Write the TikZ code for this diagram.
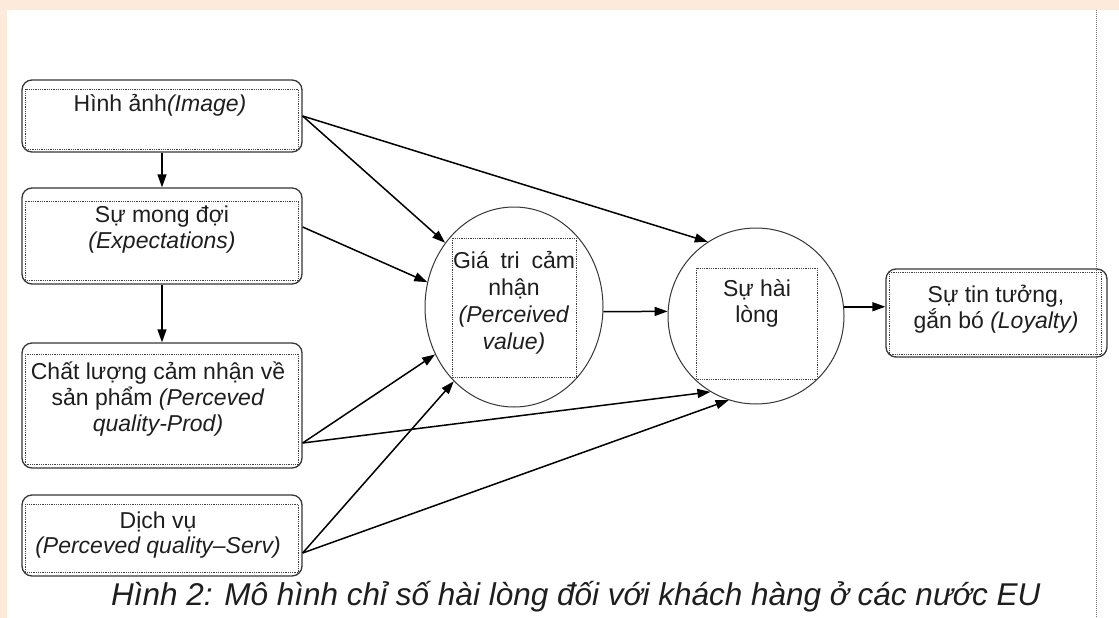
\documentclass[tikz,border=0pt]{standalone}
\usepackage{fontspec}
\setmainfont{Liberation Sans}
\usetikzlibrary{arrows.meta,shapes.geometric}
\definecolor{peach}{RGB}{253,234,218}
\definecolor{framec}{RGB}{55,55,55}
\definecolor{inkc}{RGB}{30,30,30}
\begin{document}
\begin{tikzpicture}[x=1pt,y=-1pt,
  boxframe/.style={draw=framec, line width=1.3pt, rounded corners=10pt, inner sep=0pt, minimum width=280pt},
  innerdot/.style={draw=black!75, line width=0.8pt, dash pattern=on 0.9pt off 0.9pt},
  bubble/.style={draw=framec, line width=1pt, inner sep=0pt},
  txt/.style={font=\fontsize{23}{26}\selectfont, align=center, inner sep=0pt, anchor=base, text=inkc},
  arr/.style={draw=black, line width=1.5pt, -{Triangle[length=13pt,width=9pt]}},
  caption/.style={font=\fontsize{31.5}{36}\selectfont\itshape, inner sep=0pt, anchor=base west, text=inkc}]
\useasboundingbox (0,0) rectangle (1119,618);
\fill[peach] (0,0) rectangle (1119,618);
\fill[white] (7,10) rectangle (1119,618);
% page margin line
\draw[black!55, line width=0.8pt, dash pattern=on 1pt off 1pt] (1096,10) -- (1096,618);

% boxes
\node[boxframe, minimum height=72pt] (b1) at (162,116) {};
\draw[innerdot] ([shift={(4,10)}]b1.north west) rectangle ([shift={(-4,-3)}]b1.south east);
\node[txt] (t1) at (160,111) {Hình ảnh\textit{(Image)}};

\node[boxframe, minimum height=96pt] (b2) at (162,236) {};
\draw[innerdot] ([shift={(4,14)}]b2.north west) rectangle ([shift={(-4,-4)}]b2.south east);
\node[txt] (t2) at (162,248) {Sự mong đợi\\\textit{(Expectations)}};

\node[boxframe, minimum height=125pt] (b3) at (162,405.5) {};
\draw[innerdot] ([shift={(4,12)}]b3.north west) rectangle ([shift={(-4,-4)}]b3.south east);
\node[txt] (t3) at (158,431) {Chất lượng cảm nhận về\\sản phẩm \textit{(Perceved}\\\textit{quality-Prod)}};

\node[boxframe, minimum height=81pt] (b4) at (162,535.5) {};
\draw[innerdot] ([shift={(4,10)}]b4.north west) rectangle ([shift={(-4,-4)}]b4.south east);
\node[txt, font=\fontsize{23}{24.5}\selectfont] (t4) at (158,553) {Dịch vụ\\\textit{(Perceved quality–Serv)}};

% bubbles
\node[bubble, ellipse, minimum width=178pt, minimum height=200pt] (c1) at (514,307) {};
\draw[innerdot] ([shift={(-62,-69)}]c1.center) rectangle ([shift={(62,70)}]c1.center);
\node[txt, font=\fontsize{23}{27}\selectfont] (tc1) at (514,349) {\makebox[122pt][s]{Giá tri cảm}\\nhận\\\textit{(Perceived}\\\textit{value)}};

\node[bubble, circle, minimum size=176pt] (c2) at (756,316) {};
\draw[innerdot] ([shift={(-60,-48)}]c2.center) rectangle ([shift={(61,63)}]c2.center);
\node[txt] (tc2) at (757,322) {Sự hài\\lòng};

\node[boxframe, minimum width=221pt, minimum height=88pt] (lo) at (996.5,313) {};
\draw[innerdot] ([shift={(4,4)}]lo.north west) rectangle ([shift={(-6,-3)}]lo.south east);
\node[txt] (tl) at (996,328) {Sự tin tưởng,\\gắn bó \textit{(Loyalty)}};

% connectors
\draw[arr] (b1.south) -- (b2.north);
\draw[arr] (b2.south) -- (b3.north);
\draw[arr] (b1.east) -- (c1.137);
\draw[arr] (b1.east) -- (c2.123);
\draw[arr] ([shift={(0,-9)}]b2.east) -- (c1.164);
\draw[arr] ([shift={(0,37.5)}]b3.east) -- (c1.211);
\draw[arr] ([shift={(0,37.5)}]b3.east) -- (c2.239);
\draw[arr] ([shift={(0,17.5)}]b4.east) -- (c1.231);
\draw[arr] ([shift={(0,17.5)}]b4.east) -- (c2.252);
\draw[arr] (c1.-3) -- (c2.177);
\draw[arr] (c2.6) -- (c2.6 -| lo.west);

% caption
\node[caption] (cap) at (111,605) {Hình 2: Mô hình chỉ số hài lòng đối với khách hàng ở các nước EU};
\end{tikzpicture}
\end{document}
